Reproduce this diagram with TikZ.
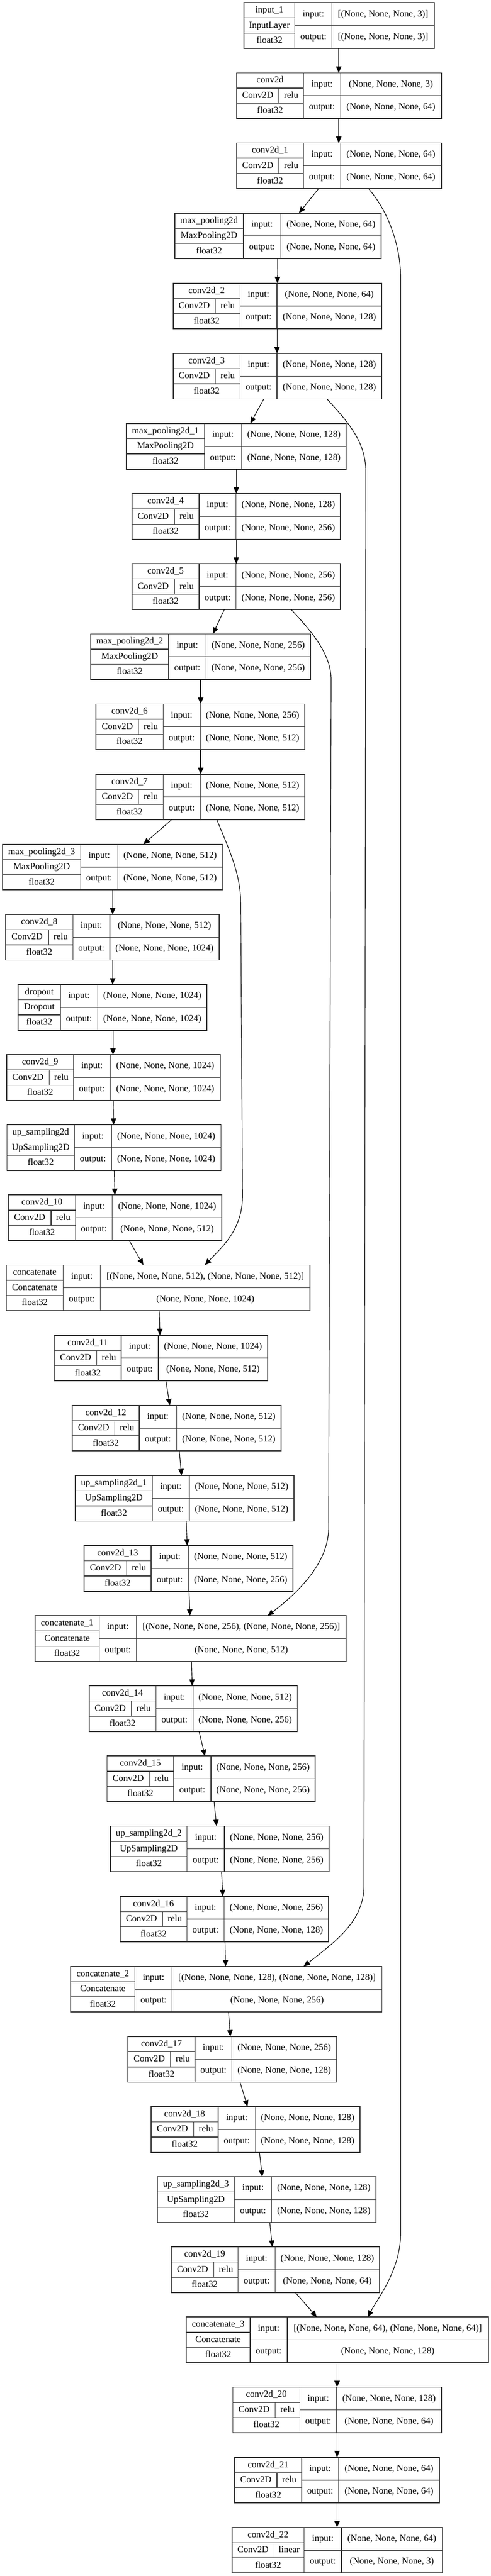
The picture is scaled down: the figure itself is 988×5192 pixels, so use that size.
\documentclass[tikz,border=0pt]{standalone}
\usepackage{fontspec}
\setmainfont{Liberation Serif}
\usetikzlibrary{arrows.meta}
\def\Lgeo#1/#2/#3/#4/#5\relax{\def\gL{#1}\def\gA{#2}\def\gB{#3}\def\gR{#4}\def\gS{#5}}
\def\Ltxt#1/#2/#3\relax{\def\tT{#1}\def\tC{#2}\def\tA{#3}}
\def\Lio#1/#2\relax{\def\tI{#1}\def\tO{#2}}
\newcommand\getdx[3]{\pgfmathsetmacro#3{#2-\csname cx#1\endcsname}}
\newcommand\lay[5]{%
  \Lgeo#3\relax\Ltxt#4\relax\Lio#5\relax
  \pgfmathsetmacro\gT{5.5+141.35*#2}%
  \pgfmathsetmacro\gBo{\gT+92}%
  \pgfmathsetmacro\gM{\gT+46}%
  \pgfmathsetmacro\gYa{\gT+30.67}%
  \pgfmathsetmacro\gYb{\gT+61.33}%
  \pgfmathsetmacro\gCx{(\gL+\gR)/2}%
  \pgfmathsetmacro\gW{\gR-\gL}%
  \expandafter\xdef\csname cx#1\endcsname{\gCx}%
  \node[box, minimum width=\gW pt, at={(\gCx,\gM)}] (#1) {};
  \draw[innerline] (\gA,\gT) -- (\gA,\gBo);
  \draw[innerline] (\gB,\gT) -- (\gB,\gBo);
  \draw[innerline] (\gL,\gYa) -- (\gA,\gYa);
  \draw[innerline] (\gL,\gYb) -- (\gA,\gYb);
  \draw[innerline] (\gA,\gM) -- (\gR,\gM);
  \node[txt] at ({(\gL+\gA)/2},{\gT+15.33}) {\tT};
  \ifx\gS\empty
    \node[txt] at ({(\gL+\gA)/2},\gM) {\tC};
  \else
    \draw[innerline] (\gS,\gYa) -- (\gS,\gYb);
    \node[txt] at ({(\gL+\gS)/2},\gM) {\tC};
    \node[txt] at ({(\gS+\gA)/2},\gM) {\tA};
  \fi
  \node[txt] at ({(\gL+\gA)/2},{\gT+76.67}) {float32};
  \node[txt] at ({(\gA+\gB)/2},{\gT+23}) {input:};
  \node[txt] at ({(\gA+\gB)/2},{\gT+69}) {output:};
  \node[txt] at ({(\gB+\gR)/2},{\gT+23}) {\tI};
  \node[txt] at ({(\gB+\gR)/2},{\gT+69}) {\tO};
}
\newcommand\edge[4]{\getdx{#1}{#2}\eda\getdx{#3}{#4}\edb
  \draw[arr] ([xshift=\eda pt]#1.south) -- ([xshift=\edb pt]#3.north);}
\begin{document}
\begin{tikzpicture}[x=1pt,y=-1pt,
  box/.style={draw=black!80, line width=1.9pt, minimum height=92pt, inner sep=0pt, outer sep=0pt},
  innerline/.style={draw=black!80, line width=1.3pt},
  txt/.style={font=\fontsize{18.5}{20}\selectfont, inner sep=0pt, text height=13.6pt, text depth=4pt, anchor=center},
  arr/.style={line width=1.2pt, black, -{Triangle[length=13pt,width=11pt]}}]
\fill[white] (0,0) rectangle (988,5192);
\useasboundingbox (0,0) rectangle (988,5192);

\lay{in1}{0}{491.5/593.6/668.5/874/}{input\_1/InputLayer/}{[(None, None, None, 3)]/[(None, None, None, 3)]}
\lay{c0}{1}{476.4/611/685.6/888.5/561.5}{conv2d/Conv2D/relu}{(None, None, None, 3)/(None, None, None, 64)}
\lay{c1}{2}{476.4/611/685.6/888.5/561.5}{conv2d\_1/Conv2D/relu}{(None, None, None, 64)/(None, None, None, 64)}
\lay{mp0}{3}{351.6/490.2/565.2/767.5/}{max\_pooling2d/MaxPooling2D/}{(None, None, None, 64)/(None, None, None, 64)}
\lay{c2}{4}{348.5/483.3/557.7/768.5/433.5}{conv2d\_2/Conv2D/relu}{(None, None, None, 64)/(None, None, None, 128)}
\lay{c3}{5}{348.5/483.3/557.7/768.5/433.5}{conv2d\_3/Conv2D/relu}{(None, None, None, 128)/(None, None, None, 128)}
\lay{mp1}{6}{254.6/411.5/486.4/697/}{max\_pooling2d\_1/MaxPooling2D/}{(None, None, None, 128)/(None, None, None, 128)}
\lay{c4}{7}{265.9/400.8/475.1/685.6/351}{conv2d\_4/Conv2D/relu}{(None, None, None, 128)/(None, None, None, 256)}
\lay{c5}{8}{265.9/400.8/475.1/685.6/351}{conv2d\_5/Conv2D/relu}{(None, None, None, 256)/(None, None, None, 256)}
\lay{mp2}{9}{182.7/339.6/414.6/625/}{max\_pooling2d\_2/MaxPooling2D/}{(None, None, None, 256)/(None, None, None, 256)}
\lay{c6}{10}{193.4/328.3/403.3/613.7/279.1}{conv2d\_6/Conv2D/relu}{(None, None, None, 256)/(None, None, None, 512)}
\lay{c7}{11}{193.4/328.3/403.3/613.7/279.1}{conv2d\_7/Conv2D/relu}{(None, None, None, 512)/(None, None, None, 512)}
\lay{mp3}{12}{5/162.6/237/448/}{max\_pooling2d\_3/MaxPooling2D/}{(None, None, None, 512)/(None, None, None, 512)}
\lay{c8}{13}{11.3/146.8/221.2/441/97.7}{conv2d\_8/Conv2D/relu}{(None, None, None, 512)/(None, None, None, 1024)}
\lay{drop}{14}{36.5/121.6/196.6/416.5/}{dropout/Dropout/}{(None, None, None, 1024)/(None, None, None, 1024)}
\lay{c9}{15}{13.2/148.1/222.4/443/98.9}{conv2d\_9/Conv2D/relu}{(None, None, None, 1024)/(None, None, None, 1024)}
\lay{up0}{16}{14/150/224.3/444.9/}{up\_sampling2d/UpSampling2D/}{(None, None, None, 1024)/(None, None, None, 1024)}
\lay{c10}{17}{17/151.9/226.2/446.8/102.7}{conv2d\_10/Conv2D/relu}{(None, None, None, 1024)/(None, None, None, 512)}
\lay{cat0}{18}{12.6/127.3/202.3/624.4/}{concatenate/Concatenate/}{[(None, None, None, 512), (None, None, None, 512)]/(None, None, None, 1024)}
\lay{c11}{19}{109.6/243.9/318.8/538.8/194.7}{conv2d\_11/Conv2D/relu}{(None, None, None, 1024)/(None, None, None, 512)}
\lay{c12}{20}{145.8/280.4/355.4/565.8/231.2}{conv2d\_12/Conv2D/relu}{(None, None, None, 512)/(None, None, None, 512)}
\lay{up1}{21}{151.9/306.9/381.2/591.7/}{up\_sampling2d\_1/UpSampling2D/}{(None, None, None, 512)/(None, None, None, 512)}
\lay{c13}{22}{169.5/304.3/379.3/589.8/255.2}{conv2d\_13/Conv2D/relu}{(None, None, None, 512)/(None, None, None, 256)}
\lay{cat1}{23}{70.6/199.7/274.7/696.9/}{concatenate\_1/Concatenate/}{[(None, None, None, 256), (None, None, None, 256)]/(None, None, None, 512)}
\lay{c14}{24}{179.6/313.8/388.8/598.6/264.6}{conv2d\_14/Conv2D/relu}{(None, None, None, 512)/(None, None, None, 256)}
\lay{c15}{25}{215.5/349.7/424.7/634.5/300.6}{conv2d\_15/Conv2D/relu}{(None, None, None, 256)/(None, None, None, 256)}
\lay{up2}{26}{222.4/376.8/451.8/662.3/}{up\_sampling2d\_2/UpSampling2D/}{(None, None, None, 256)/(None, None, None, 256)}
\lay{c16}{27}{242/376.2/451.2/661.6/327.7}{conv2d\_16/Conv2D/relu}{(None, None, None, 256)/(None, None, None, 128)}
\lay{cat2}{28}{142.4/271.6/346.6/769/}{concatenate\_2/Concatenate/}{[(None, None, None, 128), (None, None, None, 128)]/(None, None, None, 256)}
\lay{c17}{29}{257.7/392.6/466.9/678/343.4}{conv2d\_17/Conv2D/relu}{(None, None, None, 256)/(None, None, None, 128)}
\lay{c18}{30}{304.3/439.2/514.2/724.6/390}{conv2d\_18/Conv2D/relu}{(None, None, None, 128)/(None, None, None, 128)}
\lay{up3}{31}{317/472/547/756.8/}{up\_sampling2d\_3/UpSampling2D/}{(None, None, None, 128)/(None, None, None, 128)}
\lay{c19}{32}{344.7/479.5/553.9/764.3/430.4}{conv2d\_19/Conv2D/relu}{(None, None, None, 128)/(None, None, None, 64)}
\lay{cat3}{33}{374.9/503.5/578.4/983/}{concatenate\_3/Concatenate/}{[(None, None, None, 64), (None, None, None, 64)]/(None, None, None, 128)}
\lay{c20}{34}{468.8/603.7/678/888.5/553.9}{conv2d\_20/Conv2D/relu}{(None, None, None, 128)/(None, None, None, 64)}
\lay{c21}{35}{472.6/607.4/681.8/884.7/557.7}{conv2d\_21/Conv2D/relu}{(None, None, None, 64)/(None, None, None, 64)}
\lay{c22}{36}{466.9/612.5/687.4/890.4/552}{conv2d\_22/Conv2D/linear}{(None, None, None, 64)/(None, None, None, 3)}

\edge{in1}{682}{c0}{682}
\edge{c0}{682}{c1}{682}
\edge{c1}{641.5}{mp0}{601.8}
\edge{mp0}{559}{c2}{558.6}
\edge{c2}{557.7}{c3}{557.7}
\edge{c3}{531}{mp1}{504}
\edge{mp1}{475.7}{c4}{475.7}
\edge{c4}{475.7}{c5}{475.7}
\edge{c5}{451.8}{mp2}{428.5}
\edge{mp2}{404}{c6}{404}
\edge{c6}{404}{c7}{404}
\edge{c7}{345.3}{mp3}{288.6}
\edge{mp3}{226.8}{c8}{226.8}
\edge{c8}{226.8}{drop}{226.8}
\edge{drop}{227.5}{c9}{227.5}
\edge{c9}{228.1}{up0}{228.8}
\edge{up0}{230}{c10}{231.3}
\edge{c10}{260.2}{cat0}{288.6}
\edge{cat0}{320.7}{c11}{322}
\edge{c11}{334}{c12}{342}
\edge{c12}{361}{up1}{365.5}
\edge{up1}{374.9}{c13}{376.8}
\edge{c13}{380.6}{cat1}{382.5}
\edge{cat1}{385.6}{c14}{386.9}
\edge{c14}{400.8}{c15}{412.7}
\edge{c15}{431}{up2}{436}
\edge{up2}{446.1}{c16}{448.6}
\edge{c16}{453}{cat2}{454.3}
\edge{cat2}{460}{c17}{463.8}
\edge{c17}{483.3}{c18}{498.4}
\edge{c18}{522.4}{up3}{528}
\edge{up3}{543.2}{c19}{548.2}
\edge{c19}{594.8}{cat3}{637.7}
\edge{cat3}{678.6}{c20}{678.6}
\edge{c20}{678.6}{c21}{678.6}
\edge{c21}{678.6}{c22}{678.6}

% skip connections
\getdx{c1}{742}\sa \getdx{cat3}{740.4}\sb
\draw[arr] ([xshift=\sa pt]c1.south) .. controls (785,430) and (806.6,500) .. (806.6,560) -- (806.6,4500) .. controls (806.6,4575) and (762,4630) .. ([xshift=\sb pt]cat3.north);
\getdx{c3}{658.5}\sa \getdx{cat2}{611.2}\sb
\draw[arr] ([xshift=\sa pt]c3.south) .. controls (700,850) and (736.5,890) .. (736.5,950) -- (732.8,3800) .. controls (732.8,3870) and (680,3910) .. ([xshift=\sb pt]cat2.north);
\getdx{c5}{586}\sa \getdx{cat1}{538.8}\sb
\draw[arr] ([xshift=\sa pt]c5.south) .. controls (630,1275) and (666.7,1320) .. (666.7,1370) -- (661.6,3080) .. controls (661.6,3150) and (600,3210) .. ([xshift=\sb pt]cat1.north);
\getdx{c7}{436.7}\sa \getdx{cat0}{412.7}\sb
\draw[arr] ([xshift=\sa pt]c7.south) .. controls (460,1710) and (484.6,1760) .. (484.6,1820) -- (488.3,2410) .. controls (488.3,2480) and (445,2515) .. ([xshift=\sb pt]cat0.north);
\end{tikzpicture}
\end{document}
